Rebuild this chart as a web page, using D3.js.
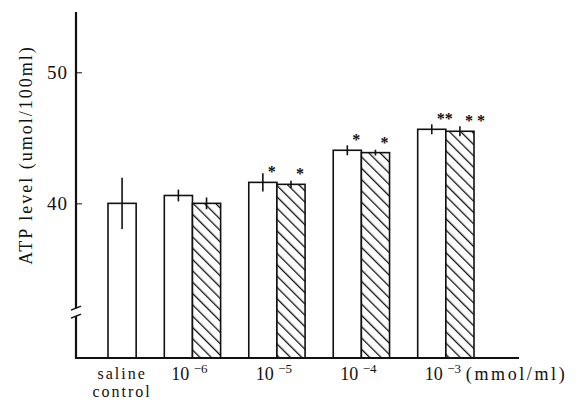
<!DOCTYPE html>
<html>
<head>
<meta charset="utf-8">
<script src="https://cdn.jsdelivr.net/npm/d3@7"></script>
<style>
  body { margin: 0; background: #fff; }
  text { font-family: "Liberation Serif", "Times New Roman", serif; fill: #111; }
</style>
</head>
<body>
<svg id="chart" width="583" height="401"></svg>
<script>
// concentrations (mmol/ml), first group is the saline control
const categories = ['saline', '1e-6', '1e-5', '1e-4', '1e-3']
const exponents = [null, -6, -5, -4, -3]

// open bars
const openMeans = [40.0, 40.6, 41.6, 44.05, 45.65]
const openErrors = [1.95, 0.45, 0.7, 0.38, 0.38]
const openStars = ['', '', '*', '*', '**']

// hatched bars (no hatched bar for the control)
const hatchMeans = [null, 40.0, 41.45, 43.87, 45.5]
const hatchErrors = [null, 0.45, 0.28, 0.22, 0.38]
const hatchStars = [null, '', '*', '*', '* *']

const yTicks = [40, 50]
const yLabel = 'ATP level (umol/100ml)'
const unitLabel = '(mmol/ml)'

let svg = d3.select('#chart')

let axisX = 76
let y = d3.scaleLinear().domain([28.2, 54.6]).range([358, 12])
let base = y.domain()[0]
let breakY = y(31.7)

// one slot per bar, plus an empty slot between groups
let slots = []
categories.forEach((c, i) => {
  if (i > 0) slots.push(c + '-gap')
  slots.push(c + '-o')
  if (hatchMeans[i] !== null) slots.push(c + '-h')
})
let x = d3.scaleBand().domain(slots).range([108, 474])
let bw = x.bandwidth()

let bars = []
categories.forEach((c, i) => {
  bars.push({ key: c + '-o', mean: openMeans[i], err: openErrors[i], star: openStars[i], hatch: false })
  if (hatchMeans[i] !== null) {
    bars.push({ key: c + '-h', mean: hatchMeans[i], err: hatchErrors[i], star: hatchStars[i], hatch: true })
  }
})

let groupCenter = (c, i) => hatchMeans[i] !== null ? x(c + '-h') : x(c + '-o') + bw / 2

// hatch pattern
svg.append('defs').append('pattern')
  .attr('id', 'hatch')
  .attr('patternUnits', 'userSpaceOnUse')
  .attr('width', 8)
  .attr('height', 8)
  .attr('patternTransform', 'rotate(-45)')
  .call(p => p.append('rect').attr('width', 8).attr('height', 8).attr('fill', '#fff'))
  .append('line')
  .attr('x1', 0).attr('y1', 0).attr('x2', 0).attr('y2', 8)
  .attr('stroke', '#111')
  .attr('stroke-width', 2.6)

// bars
svg.selectAll('rect.bar')
  .data(bars)
  .enter()
  .append('rect')
  .attr('class', 'bar')
  .attr('x', d => x(d.key))
  .attr('y', d => y(d.mean))
  .attr('width', bw)
  .attr('height', d => y(base) - y(d.mean))
  .attr('fill', d => d.hatch ? 'url(#hatch)' : '#fff')
  .attr('stroke', '#111')
  .attr('stroke-width', 1.6)

// error bars
svg.selectAll('line.err')
  .data(bars)
  .enter()
  .append('line')
  .attr('class', 'err')
  .attr('x1', d => x(d.key) + bw / 2)
  .attr('x2', d => x(d.key) + bw / 2)
  .attr('y1', d => y(d.mean + d.err))
  .attr('y2', d => y(d.mean - d.err))
  .attr('stroke', '#111')
  .attr('stroke-width', 1.6)

// significance stars
svg.selectAll('text.star')
  .data(bars.filter(d => d.star))
  .enter()
  .append('text')
  .attr('class', 'star')
  .attr('x', d => x(d.key) + bw / 2 + 5)
  .attr('y', d => y(d.mean) - 5)
  .style('font-size', '16px')
  .style('font-weight', 'bold')
  .text(d => d.star)

// y axis (ticks point inwards, domain drawn by hand because of the break)
let yAxis = d3.axisLeft(y).tickValues(yTicks).tickSize(-6).tickPadding(8)
let yg = svg.append('g')
  .attr('transform', 'translate(' + axisX + ',0)')
  .call(yAxis)
yg.select('.domain').remove()
yg.selectAll('.tick line').attr('stroke', '#111').attr('stroke-width', 1)
yg.selectAll('.tick text')
  .style('font-size', '19px')
  .style('letter-spacing', '1px')

svg.append('line')
  .attr('x1', axisX).attr('x2', axisX)
  .attr('y1', y.range()[1]).attr('y2', breakY - 4)
  .attr('stroke', '#111').attr('stroke-width', 2.2)
svg.append('line')
  .attr('x1', axisX).attr('x2', axisX)
  .attr('y1', breakY + 4).attr('y2', y(base) + 1)
  .attr('stroke', '#111').attr('stroke-width', 2.2)
// break marks
;[-4, 4].forEach(off => {
  svg.append('line')
    .attr('x1', axisX - 5).attr('y1', breakY + off + 2)
    .attr('x2', axisX + 5).attr('y2', breakY + off - 2)
    .attr('stroke', '#111').attr('stroke-width', 1.6)
})

// x axis line
svg.append('line')
  .attr('x1', axisX - 1).attr('x2', 519)
  .attr('y1', y(base)).attr('y2', y(base))
  .attr('stroke', '#111').attr('stroke-width', 2.2)

// category labels
categories.forEach((c, i) => {
  let cx = groupCenter(c, i)
  if (exponents[i] === null) {
    svg.append('text').attr('x', cx).attr('y', 379)
      .attr('text-anchor', 'middle').style('font-size', '16px').style('letter-spacing', '2px')
      .text('saline')
    svg.append('text').attr('x', cx).attr('y', 397)
      .attr('text-anchor', 'middle').style('font-size', '16px').style('letter-spacing', '2px')
      .text('control')
  } else {
    let t = svg.append('text').attr('x', cx - 3).attr('y', 380)
      .attr('text-anchor', 'middle').style('font-size', '18px')
    t.append('tspan').text('10 ')
    t.append('tspan').attr('dy', -7).style('font-size', '13px').text('\u2212' + Math.abs(exponents[i]))
    if (i === categories.length - 1) {
      svg.append('text').attr('x', cx + 20).attr('y', 380)
        .style('font-size', '18px').style('letter-spacing', '2.6px')
        .text(unitLabel)
    }
  }
})

// y axis title
svg.append('text')
  .attr('transform', 'translate(32,155) rotate(-90)')
  .attr('text-anchor', 'middle')
  .style('font-size', '18px')
  .style('letter-spacing', '2px')
  .text(yLabel)
</script>
</body>
</html>
